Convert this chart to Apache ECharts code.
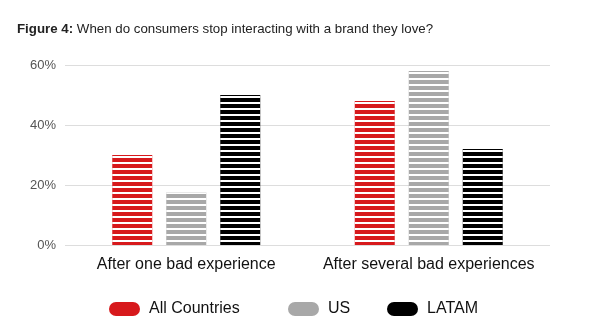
<!DOCTYPE html>
<html>
<head>
<meta charset="utf-8">
<script src="https://cdn.jsdelivr.net/npm/echarts@6/dist/echarts.min.js"></script>
<style>
html,body{margin:0;padding:0;background:#fff;}
#chart{width:600px;height:332px;}
</style>
</head>
<body>
<div id="chart"></div>
<script>
var categories = ['After one bad experience', 'After several bad experiences'];
var seriesNames = ['All Countries', 'US', 'LATAM'];
var allCountries = [30, 48];
var us = [17.5, 58];
var latam = [50, 32];
var yTicks = [0, 20, 40, 60];
var colors = ['#d7191c', '#a8a8a8', '#000000'];

var chart = echarts.init(document.getElementById('chart'), null, {renderer: 'canvas'});
var decal = {
  symbol: 'rect',
  symbolSize: 1,
  color: '#ffffff',
  dashArrayX: [1, 0],
  dashArrayY: [2, 4],
  rotation: 0
};
var pill = 'path://M7,0 H24 A7,7 0 0 1 24,14 H7 A7,7 0 0 1 7,0 Z';
var dataSets = [allCountries, us, latam];
var series = seriesNames.map(function (n, i) {
  return {
    name: n,
    type: 'bar',
    data: dataSets[i],
    barWidth: 40,
    barGap: '35%',
    itemStyle: { color: colors[i], decal: decal }
  };
});
var legendLefts = [109, 288, 387];
var legends = seriesNames.map(function (n, i) {
  return {
    data: [{ name: n, icon: pill, itemStyle: { color: colors[i], decal: 'none' } }],
    left: legendLefts[i],
    top: 301,
    padding: 0,
    itemWidth: 31,
    itemHeight: 14,
    textStyle: {
      fontFamily: 'Liberation Sans, Arial, sans-serif',
      fontSize: 16,
      color: '#111',
      padding: [0, 0, 0, 4]
    }
  };
});

chart.setOption({
  animation: false,
  title: {
    text: '{b|Figure 4:} When do consumers stop interacting with a brand they love?',
    left: 17,
    top: 23,
    padding: 0,
    textStyle: {
      fontFamily: 'Liberation Sans, Arial, sans-serif',
      fontSize: 13.3,
      fontWeight: 'normal',
      color: '#222',
      rich: { b: { fontWeight: 'bold', fontSize: 13.3, color: '#222', fontFamily: 'Liberation Sans, Arial, sans-serif' } }
    }
  },
  legend: legends,
  grid: { left: 65, right: 50, top: 65, bottom: 87, containLabel: false },
  xAxis: {
    type: 'category',
    data: categories,
    axisTick: { show: false },
    axisLine: { show: false },
    axisLabel: {
      interval: 0,
      margin: 12,
      fontFamily: 'Liberation Sans, Arial, sans-serif',
      fontSize: 16,
      color: '#111'
    }
  },
  yAxis: {
    type: 'value',
    min: 0,
    max: 60,
    interval: 20,
    axisLabel: {
      formatter: function (v) { return yTicks.indexOf(v) >= 0 ? v + '%' : ''; },
      margin: 9,
      fontFamily: 'Liberation Sans, Arial, sans-serif',
      fontSize: 13,
      color: '#555'
    },
    splitLine: { lineStyle: { color: '#dddddd', width: 1 } },
    axisLine: { show: false },
    axisTick: { show: false }
  },
  series: series
});
</script>
</body>
</html>
